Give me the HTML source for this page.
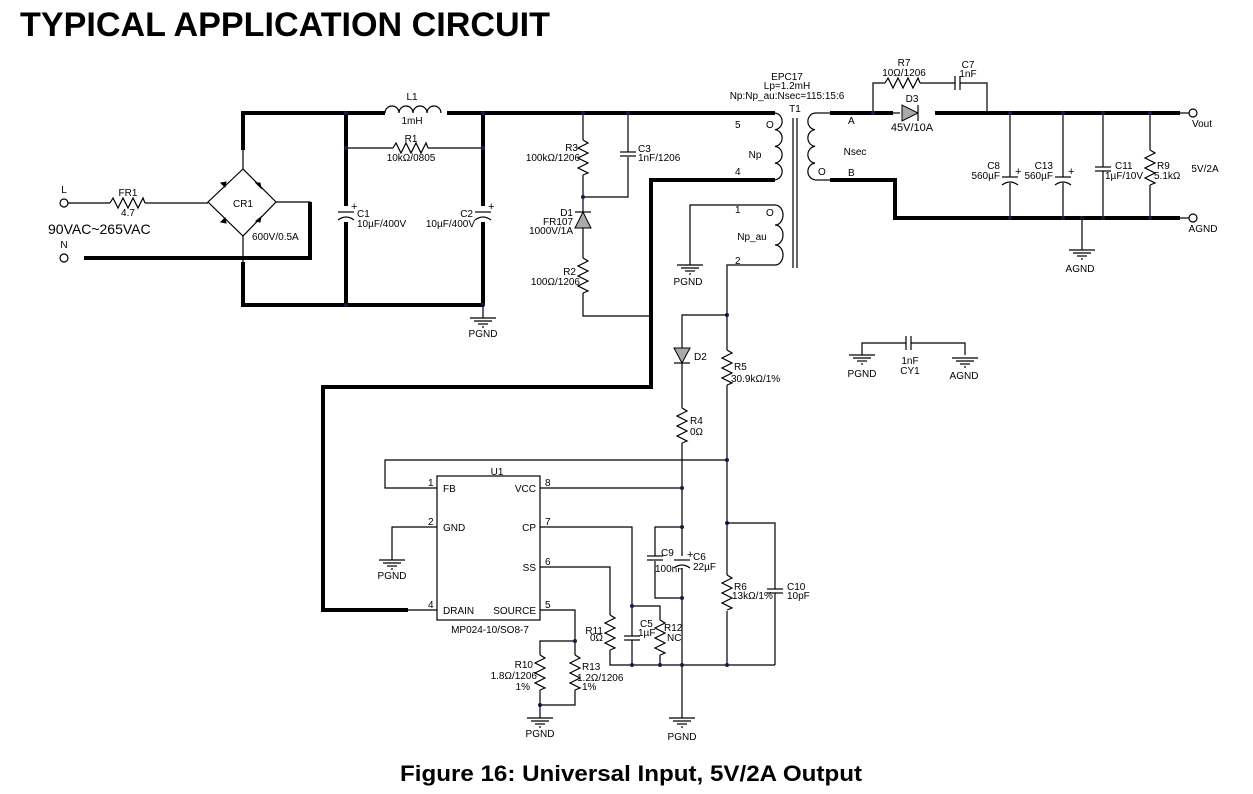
<!DOCTYPE html>
<html><head><meta charset="utf-8"><style>
html,body{margin:0;padding:0;background:#fff;}
svg{display:block;font-family:"Liberation Sans",sans-serif;}
.t{stroke:#000;stroke-width:1.2;fill:none;}
.k{stroke:#000;stroke-width:4;fill:none;}
text{font-size:10px;fill:#000;}
.m{text-anchor:middle;}
.e{text-anchor:end;}
</style></head><body>
<svg width="1253" height="794" viewBox="0 0 1253 794">
<defs>
<path id="rv" d="M0 0 l5 3 l-10 5 l10 5 l-10 5 l10 5 l-10 5 l10 5 l-5 2" class="t"/>
<path id="rh" d="M0 0 l3 -5 l5 10 l5 -10 l5 10 l5 -10 l5 10 l5 -10 l2 5" class="t"/>
<g id="gnd"><line x1="-13" y1="0" x2="13" y2="0" class="t"/><line x1="-9" y1="3" x2="9" y2="3" class="t"/><line x1="-5" y1="6" x2="5" y2="6" class="t"/><line x1="-1" y1="9" x2="1" y2="9" class="t"/></g>
<g id="cv"><line x1="-8" y1="0" x2="8" y2="0" class="t" stroke-width="1.8"/><line x1="-8" y1="4" x2="8" y2="4" class="t" stroke-width="1.8"/></g>
<g id="ce"><line x1="-8" y1="0" x2="8" y2="0" class="t" stroke-width="1.8"/><path d="M-8 8 Q0 2 8 8" class="t" stroke-width="1.8"/><text x="5" y="-2" style="font-size:11px">+</text></g>
<circle id="dot" r="2" fill="#1a1a4a"/>
</defs>

<text x="20" y="36" style="font-size:34px;font-weight:bold" textLength="530" lengthAdjust="spacingAndGlyphs">TYPICAL APPLICATION CIRCUIT</text>
<text x="631" y="781" class="m" style="font-size:22px;font-weight:bold" textLength="462" lengthAdjust="spacingAndGlyphs">Figure 16: Universal Input, 5V/2A Output</text>

<!-- input -->
<circle cx="64" cy="203" r="4" class="t"/><circle cx="64" cy="258" r="4" class="t"/>
<text x="64" y="193" class="m">L</text><text x="64" y="248" class="m">N</text>
<line x1="68" y1="203" x2="110" y2="203" class="t"/>
<use href="#rh" x="110" y="203"/>
<line x1="145" y1="203" x2="208" y2="203" class="t"/>
<text x="128" y="196" class="m">FR1</text><text x="128" y="216" class="m">4.7</text>
<text x="48" y="234" style="font-size:14px">90VAC~265VAC</text>
<line x1="84" y1="258" x2="312" y2="258" class="k"/>
<!-- bridge -->
<path d="M243 169 L208 202 L243 236 L276 202 Z" class="t"/>
<path d="M276 202 H310 V258" class="t"/>
<line x1="310" y1="202" x2="310" y2="260" class="k"/>
<path d="M243 236 V262" class="t"/>
<path d="M243 169 V150" class="t"/>
<path d="M221 183 l5 -1 l-1 5 z M256 183 l5 5 l-1 -5 z M221 222 l5 1 l-1 -5 z M261 217 l-1 5 l-4 -1 z" fill="#000" stroke="#000"/>
<text x="243" y="207" class="m">CR1</text><text x="252" y="240">600V/0.5A</text>
<path d="M243 150 V113 H385" class="k"/>
<path d="M243 262 V305 H483" class="k"/>
<!-- L1 -->
<path d="M385 113 a7 7 0 0 1 14 0 a7 7 0 0 1 14 0 a7 7 0 0 1 14 0 a7 7 0 0 1 14 0" class="t"/>
<text x="412" y="100" class="m">L1</text><text x="412" y="124" class="m">1mH</text>
<line x1="447" y1="113" x2="775" y2="113" class="k"/>
<!-- C1 C2 R1 -->
<line x1="346" y1="113" x2="346" y2="206" class="k"/><use href="#ce" x="346" y="212"/><line x1="346" y1="222" x2="346" y2="305" class="k"/>
<text x="357" y="217">C1</text><text x="357" y="227">10µF/400V</text>
<line x1="483" y1="113" x2="483" y2="206" class="k"/><use href="#ce" x="483" y="212"/><line x1="483" y1="222" x2="483" y2="305" class="k"/>
<text x="473" y="217" class="e">C2</text><text x="475" y="227" class="e">10µF/400V</text>
<line x1="346" y1="148" x2="393" y2="148" class="t"/><use href="#rh" x="393" y="148"/><line x1="428" y1="148" x2="483" y2="148" class="t"/>
<text x="411" y="142" class="m">R1</text><text x="411" y="161" class="m">10kΩ/0805</text>
<use href="#dot" x="346" y="113"/><use href="#dot" x="483" y="113"/><use href="#dot" x="346" y="148"/><use href="#dot" x="483" y="148"/><use href="#dot" x="346" y="305"/><use href="#dot" x="483" y="305"/>
<line x1="483" y1="305" x2="483" y2="318" class="t"/><use href="#gnd" x="483" y="318"/><text x="483" y="337" class="m">PGND</text>
<!-- snubber -->
<line x1="583" y1="113" x2="583" y2="140" class="t"/><use href="#rv" x="583" y="140"/><line x1="583" y1="175" x2="583" y2="212" class="t"/>
<text x="578" y="151" class="e">R3</text><text x="580" y="161" class="e">100kΩ/1206</text>
<path d="M628 113 V152 M628 157 V197 H583" class="t"/><use href="#cv" x="628" y="152"/>
<text x="638" y="152">C3</text><text x="638" y="161">1nF/1206</text>
<use href="#dot" x="583" y="113"/><use href="#dot" x="628" y="113"/><use href="#dot" x="583" y="197"/>
<line x1="575" y1="212" x2="591" y2="212" class="t"/><path d="M583 212 L575 228 L591 228 Z" fill="#aaa" stroke="#000"/>
<text x="573" y="216" class="e">D1</text><text x="573" y="225" class="e">FR107</text><text x="573" y="234" class="e">1000V/1A</text>
<line x1="583" y1="228" x2="583" y2="258" class="t"/><use href="#rv" x="583" y="258"/><path d="M583 293 V316 H651" class="t"/>
<text x="576" y="275" class="e">R2</text><text x="580" y="285" class="e">100Ω/1206</text>
<use href="#dot" x="651" y="316"/>
<path d="M775 180 H651 V387 H323 V610 H408" class="k"/>
<!-- transformer -->
<text x="787" y="80" class="m">EPC17</text><text x="787" y="89" class="m">Lp=1.2mH</text><text x="787" y="99" class="m">Np:Np_au:Nsec=115:15:6</text>
<text x="795" y="112" class="m">T1</text>
<line x1="793" y1="118" x2="793" y2="268" class="t"/><line x1="797" y1="118" x2="797" y2="268" class="t"/>
<path d="M775 113 a8 8.4 0 0 1 0 16.7 a8 8.4 0 0 1 0 16.7 a8 8.4 0 0 1 0 16.7 a8 8.4 0 0 1 0 16.7" class="t"/>
<path d="M815 113 a8 8.4 0 0 0 0 16.7 a8 8.4 0 0 0 0 16.7 a8 8.4 0 0 0 0 16.7 a8 8.4 0 0 0 0 16.7" class="t"/>
<line x1="815" y1="113" x2="830" y2="113" class="t"/><line x1="815" y1="180" x2="830" y2="180" class="t"/>
<path d="M775 205 a8 10 0 0 1 0 20 a8 10 0 0 1 0 20 a8 10 0 0 1 0 20" class="t"/>
<text x="735" y="128">5</text><text x="735" y="175">4</text><text x="735" y="213">1</text><text x="735" y="264">2</text>
<text x="766" y="128" style="font-size:10px">O</text><text x="818" y="175" style="font-size:10px">O</text><text x="766" y="216" style="font-size:10px">O</text>
<text x="755" y="158" class="m">Np</text><text x="752" y="240" class="m">Np_au</text><text x="855" y="155" class="m">Nsec</text>
<text x="848" y="124">A</text><text x="848" y="176">B</text>
<path d="M775 205 H690 V265" class="t"/><use href="#gnd" x="690" y="265"/><text x="688" y="285" class="m">PGND</text>
<path d="M775 265 H727 V350" class="t"/>
<!-- secondary -->
<line x1="830" y1="113" x2="893" y2="113" class="k"/>
<path d="M893 113 L900 113" class="t"/>
<path d="M902 105 L902 121 L918 113 Z" fill="#aaa" stroke="#000"/><line x1="918" y1="105" x2="918" y2="121" class="t"/>
<text x="912" y="102" class="m">D3</text><text x="912" y="131" class="m" style="font-size:11px">45V/10A</text>
<path d="M873 113 V83 H885" class="t"/><use href="#rh" x="885" y="83"/><path d="M920 83 H955 M960 83 H987 V113" class="t"/>
<line x1="955" y1="76" x2="955" y2="90" class="t" stroke-width="1.8"/><line x1="960" y1="76" x2="960" y2="90" class="t" stroke-width="1.8"/>
<text x="904" y="66" class="m">R7</text><text x="904" y="76" class="m">10Ω/1206</text><text x="968" y="68" class="m">C7</text><text x="968" y="77" class="m">1nF</text>
<use href="#dot" x="873" y="113"/><use href="#dot" x="987" y="113"/>
<line x1="935" y1="113" x2="1180" y2="113" class="k"/>
<path d="M830 180 H895 V218 H1180" class="k"/>
<circle cx="1193" cy="113" r="4" class="t"/><circle cx="1193" cy="218" r="4" class="t"/>
<line x1="1180" y1="113" x2="1189" y2="113" class="t"/><line x1="1180" y1="218" x2="1189" y2="218" class="t"/>
<text x="1202" y="127" class="m">Vout</text><text x="1203" y="232" class="m">AGND</text><text x="1205" y="172" class="m">5V/2A</text>
<path d="M1010 113 V177 M1010 183 V218" class="t"/><use href="#ce" x="1010" y="177"/>
<text x="1000" y="169" class="e">C8</text><text x="1000" y="179" class="e">560µF</text>
<path d="M1063 113 V177 M1063 183 V218" class="t"/><use href="#ce" x="1063" y="177"/>
<text x="1053" y="169" class="e">C13</text><text x="1053" y="179" class="e">560µF</text>
<path d="M1103 113 V167 M1103 171 V218" class="t"/><use href="#cv" x="1103" y="167"/>
<text x="1115" y="169">C11</text><text x="1105" y="179">1µF/10V</text>
<path d="M1150 113 V150 M1150 185 V218" class="t"/><use href="#rv" x="1150" y="150"/>
<text x="1157" y="169">R9</text><text x="1154" y="179">5.1kΩ</text>
<use href="#dot" x="1010" y="113"/><use href="#dot" x="1063" y="113"/><use href="#dot" x="1103" y="113"/><use href="#dot" x="1150" y="113"/>
<use href="#dot" x="1010" y="218"/><use href="#dot" x="1063" y="218"/><use href="#dot" x="1103" y="218"/><use href="#dot" x="1150" y="218"/><use href="#dot" x="1082" y="218"/>
<line x1="1082" y1="218" x2="1082" y2="250" class="t"/><use href="#gnd" x="1082" y="250"/><text x="1080" y="272" class="m">AGND</text>
<!-- CY1 -->
<path d="M862 355 V343 H906 M911 343 H965 V355" class="t"/>
<line x1="906" y1="336" x2="906" y2="350" class="t" stroke-width="1.8"/><line x1="911" y1="336" x2="911" y2="350" class="t" stroke-width="1.8"/>
<use href="#gnd" x="862" y="355"/><use href="#gnd" x="965" y="358"/>
<text x="862" y="377" class="m">PGND</text><text x="910" y="364" class="m">1nF</text><text x="910" y="374" class="m">CY1</text><text x="964" y="379" class="m">AGND</text>
<!-- aux -->
<use href="#dot" x="727" y="315"/>
<path d="M727 315 H682 V348" class="t"/>
<path d="M674 348 L690 348 L682 363 Z" fill="#aaa" stroke="#000"/><line x1="674" y1="363" x2="690" y2="363" class="t"/>
<text x="694" y="360">D2</text>
<path d="M682 363 V408" class="t"/><use href="#rv" x="682" y="408"/><path d="M682 443 V718" class="t"/>
<text x="690" y="424">R4</text><text x="690" y="435">0Ω</text>
<use href="#rv" x="727" y="350"/><path d="M727 385 V665" class="t"/>
<text x="734" y="370">R5</text><text x="731" y="382">30.9kΩ/1%</text>
<use href="#dot" x="727" y="460"/>
<path d="M727 460 H385 V488 H437" class="t"/>
<!-- U1 -->
<rect x="437" y="476" width="103" height="144" class="t"/>
<text x="497" y="475" class="m">U1</text><text x="490" y="633" class="m">MP024-10/SO8-7</text>
<text x="443" y="492">FB</text><text x="443" y="531">GND</text><text x="443" y="614">DRAIN</text>
<text x="536" y="492" class="e">VCC</text><text x="536" y="531" class="e">CP</text><text x="536" y="571" class="e">SS</text><text x="536" y="614" class="e">SOURCE</text>
<text x="428" y="486">1</text><text x="428" y="525">2</text><text x="428" y="608">4</text>
<text x="545" y="486">8</text><text x="545" y="525">7</text><text x="545" y="565">6</text><text x="545" y="608">5</text>
<path d="M408 610 H437" class="t"/>
<path d="M437 527 H392 V560" class="t"/><use href="#gnd" x="392" y="560"/><text x="392" y="579" class="m">PGND</text>
<path d="M540 488 H682" class="t"/><use href="#dot" x="682" y="488"/>
<path d="M682 527 H655 V556 M655 561 V598 H682" class="t"/><use href="#cv" x="655" y="556"/>
<use href="#dot" x="682" y="527"/><use href="#dot" x="682" y="598"/>
<text x="661" y="556">C9</text><text x="655" y="572">100nF</text>
<rect x="674" y="556" width="16" height="12" fill="#fff"/><use href="#ce" x="682" y="560"/>
<text x="693" y="560">C6</text><text x="693" y="570">22µF</text>
<path d="M540 527 H632 V636 M632 640 V665" class="t"/><use href="#cv" x="632" y="636"/>
<text x="640" y="627">C5</text><text x="638" y="636">1µF</text>
<path d="M632 606 H660 V620 M660 655 V665" class="t"/><use href="#rv" x="660" y="620"/><use href="#dot" x="632" y="606"/>
<text x="664" y="631">R12</text><text x="667" y="641">NC</text>
<path d="M540 567 H610 V615 M610 650 V665 H775" class="t"/><use href="#rv" x="610" y="615"/>
<text x="603" y="634" class="e">R11</text><text x="603" y="641" class="e">0Ω</text>
<use href="#dot" x="632" y="665"/><use href="#dot" x="660" y="665"/><use href="#dot" x="682" y="665"/><use href="#dot" x="727" y="665"/>
<use href="#dot" x="727" y="523"/>
<path d="M727 523 H775 V589 M775 593 V665" class="t"/><use href="#cv" x="775" y="589"/>
<text x="787" y="590">C10</text><text x="787" y="599">10pF</text>
<rect x="720" y="575" width="14" height="36" fill="#fff"/><use href="#rv" x="727" y="575"/>
<text x="734" y="590">R6</text><text x="732" y="599">13kΩ/1%</text>
<use href="#gnd" x="682" y="718"/><text x="682" y="740" class="m">PGND</text>
<path d="M540 610 H575 V655 M575 690 V705 H540 V690 M540 655 V641 H575" class="t"/>
<use href="#rv" x="540" y="655"/><use href="#rv" x="575" y="655"/><use href="#dot" x="575" y="641"/><use href="#dot" x="540" y="705"/>
<text x="533" y="668" class="e">R10</text><text x="537" y="679" class="e">1.8Ω/1206</text><text x="530" y="690" class="e">1%</text>
<text x="582" y="670">R13</text><text x="577" y="681">1.2Ω/1206</text><text x="582" y="690">1%</text>
<path d="M540 705 V718" class="t"/><use href="#gnd" x="540" y="718"/><text x="540" y="737" class="m">PGND</text>
</svg>
</body></html>
